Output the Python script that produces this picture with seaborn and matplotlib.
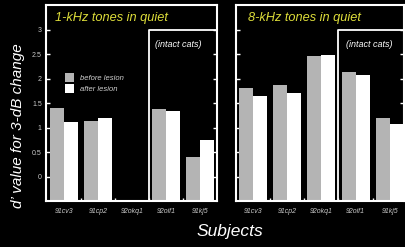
import numpy as np
import pandas as pd
import matplotlib
matplotlib.use("Agg")
import matplotlib.pyplot as plt
from matplotlib.patches import Patch
import seaborn as sns

# values (d' for a 3-dB change)
subjects = ["91cv3", "91cp2", "92okq1", "92oif1", "91kj5"]
conditions = ["before lesion", "after lesion"]
khz1_before = [1.40, 1.13, np.nan, 1.37, 0.39]
khz1_after = [1.12, 1.20, np.nan, 1.33, 0.74]
khz8_before = [1.80, 1.86, 2.45, 2.14, 1.20]
khz8_after = [1.65, 1.71, 2.47, 2.08, 1.08]
panel_titles = ["1-kHz tones in quiet", "8-kHz tones in quiet"]
inset_label = "(intact cats)"
y_ticks = [0, 0.5, 1, 1.5, 2, 2.5, 3]
y_ticklabels = ["0", "0.5", "1", "1.5", "2", "2.5", "3"]

GREY = "#b4b4b4"
YELLOW = "#dede3a"
BASE = -0.5

sns.set_theme(style="dark")
plt.rcParams["font.family"] = ["Liberation Sans", "DejaVu Sans"]


def make_df(before, after):
    return pd.DataFrame({
        "subject": subjects * 2,
        "condition": [conditions[0]] * len(subjects) + [conditions[1]] * len(subjects),
        "dprime": list(before) + list(after),
    })


fig = plt.figure(figsize=(4.06, 2.47), dpi=100, facecolor="black")
ax1 = fig.add_axes([0.1133, 0.1862, 0.4212, 0.7935])
ax2 = fig.add_axes([0.5813, 0.1862, 0.4138, 0.7935])

panels = [
    (ax1, make_df(khz1_before, khz1_after), (-0.53, 4.5), 0.053, 0.637),
    (ax2, make_df(khz8_before, khz8_after), (-0.5, 4.42), 0.07, 0.655),
]

for i, (ax, df, xlim, tx, ix) in enumerate(panels):
    ax.set_facecolor("black")
    sns.barplot(data=df, x="subject", y="dprime", hue="condition",
                order=subjects, hue_order=conditions,
                palette=[GREY, "white"], saturation=1, errorbar=None,
                width=0.82, gap=0, linewidth=0, legend=False, ax=ax)
    # bars in the original rise from the bottom of the axis
    for p in ax.patches:
        h = p.get_height()
        if np.isfinite(h):
            p.set_y(BASE)
            p.set_height(h - BASE)
    ax.set_xlim(*xlim)
    ax.set_ylim(BASE, 3.5)
    ax.set_xlabel("")
    ax.set_ylabel("")
    ax.grid(False)

    for s in ax.spines.values():
        s.set_visible(True)
        s.set_color("white")
        s.set_linewidth(1.5)

    ax.set_yticks(y_ticks)
    ax.set_yticklabels(y_ticklabels)
    ax.tick_params(axis="y", direction="in", length=3, width=1, color="white",
                   left=True, right=True, labelleft=(i == 0),
                   labelsize=5, labelcolor="#c8c8c8", pad=3)
    ax.set_xticks(range(len(subjects)))
    ax.set_xticklabels(subjects, fontstyle="italic")
    ax.tick_params(axis="x", length=0, labelsize=5, labelcolor="#c8c8c8", pad=5)
    ax.set_xticks([0.5, 1.5, 2.5, 3.5], minor=True)
    ax.tick_params(axis="x", which="minor", direction="in", length=2,
                   width=1, color="white", bottom=True)

    # box around the intact-cat subjects
    ax.plot([2.5, 2.5, xlim[1]], [BASE, 3.0, 3.0], color="white", lw=1.3,
            clip_on=False, zorder=5)

    ax.text(tx, 0.935, panel_titles[i], transform=ax.transAxes, color=YELLOW,
            fontsize=9.2, fontstyle="italic", va="center", ha="left")
    ax.text(ix, 0.80, inset_label, transform=ax.transAxes, color="white",
            fontsize=6.5, fontstyle="italic", va="center", ha="left")

handles = [Patch(facecolor=GREY, edgecolor="none"),
           Patch(facecolor="white", edgecolor="none")]
leg = ax1.legend(handles, conditions, loc="upper left",
                 bbox_to_anchor=(0.07, 0.69), frameon=False,
                 prop={"size": 5.5, "style": "italic"},
                 handlelength=1.2, handleheight=1.5, handletextpad=0.8,
                 labelspacing=0.25)
for t in leg.get_texts():
    t.set_color("#d0d0d0")

fig.text(0.044, 0.49, "d\u2019 value for 3-dB change", rotation=90,
         color="white", fontsize=11, fontstyle="italic", ha="center", va="center")
fig.text(0.567, 0.064, "Subjects", color="white", fontsize=12.5,
         fontstyle="italic", ha="center", va="center")

fig.savefig("out.png", dpi=100, facecolor="black")
